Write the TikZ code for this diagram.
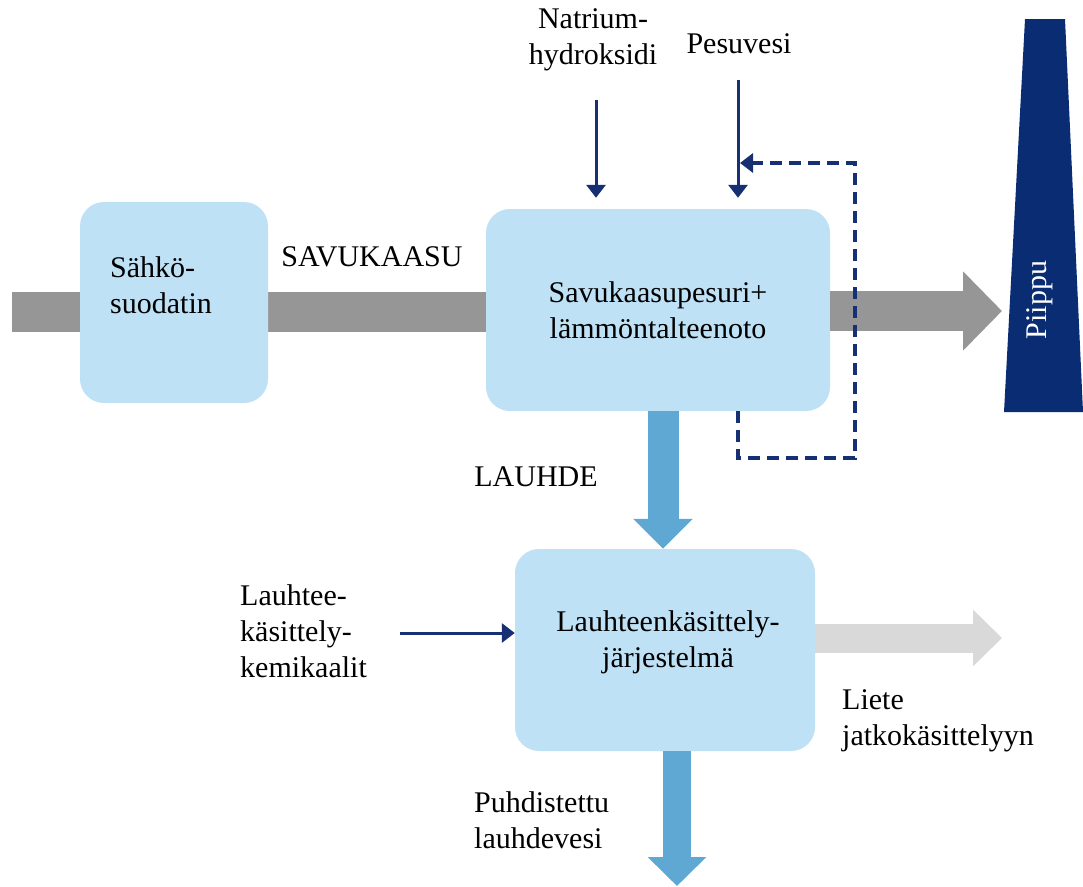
\documentclass[tikz,border=0pt]{standalone}
\usepackage{fontspec}
\setmainfont{Liberation Serif}
\usetikzlibrary{arrows.meta}
\definecolor{boxblue}{RGB}{190,225,245}
\definecolor{bandgray}{RGB}{150,150,150}
\definecolor{lightband}{RGB}{217,217,217}
\definecolor{flowblue}{RGB}{96,168,212}
\definecolor{navy}{RGB}{10,44,115}
\definecolor{linenavy}{RGB}{22,48,115}
\tikzset{
  unitbox/.style={draw=none, fill=boxblue, rounded corners=24pt, inner sep=0pt},
  txt/.style={font=\rmfamily\fontsize{30}{36}\selectfont, inner sep=0pt, align=center},
  txtl/.style={font=\rmfamily\fontsize{30}{36}\selectfont, inner sep=0pt, align=left},
  thinarrow/.style={draw=linenavy, line width=3pt, -{Triangle[length=13pt,width=19pt]}},
  dashline/.style={draw=linenavy, line width=3.2pt, dash pattern=on 12pt off 7pt},
  gasband/.style={draw=bandgray, line width=40pt},
}
\begin{document}
\begin{tikzpicture}[x=1pt,y=-1pt]
\useasboundingbox (0,0) rectangle (1083,886);

% coordinates
\coordinate (gasin) at (12,312);
\coordinate (gastip) at (1002,311);
\coordinate (natop) at (596,100);
\coordinate (pestop) at (738,80);
\coordinate (kemstart) at (400,633);
\coordinate (lietetip) at (1002,638);
\coordinate (wateout) at (677,886);
\coordinate (dashA) at (738,458);
\coordinate (dashB) at (855,458);
\coordinate (dashC) at (855,163);

% gray flue gas band (behind boxes)
\draw[gasband] (gasin) -- (486,312);

% boxes
\node[unitbox, minimum width=188pt, minimum height=201pt] (sahko) at (174,302.5) {};
\node[unitbox, minimum width=344pt, minimum height=202pt] (pesuri) at (658,310) {};
\node[unitbox, minimum width=300pt, minimum height=202pt] (lauhde) at (665,650) {};

% flue gas to stack
\draw[gasband, -{Triangle[length=39pt,width=77pt]}] (pesuri.east |- gastip) -- (gastip);

% condensate arrow
\draw[draw=flowblue, line width=31pt, -{Triangle[length=30pt,width=58pt]}]
  ([xshift=5pt]pesuri.south) -- ([xshift=5pt]pesuri.south |- lauhde.north);

% treated water
\draw[draw=flowblue, line width=28pt, -{Triangle[length=29pt,width=57pt]}]
  (lauhde.south -| wateout) -- (wateout);

% sludge arrow
\draw[draw=lightband, line width=29pt, -{Triangle[length=29pt,width=55pt]}]
  (lauhde.east |- lietetip) -- (lietetip);

% chemical inputs
\draw[thinarrow] (natop) -- ([yshift=11pt]natop |- pesuri.north);
\draw[thinarrow] (pestop) -- ([yshift=11pt]pestop |- pesuri.north);
\draw[thinarrow] (kemstart) -- (kemstart -| lauhde.west);

% recirculation (dashed)
\draw[dashline, -{Triangle[length=13pt,width=19pt]}]
  (dashA |- pesuri.south) -- (dashA) -- (dashB) -- (dashC) -- ([xshift=2pt]pestop |- dashC);

% stack
\fill[navy] (1025,19) -- (1065,19) -- (1083,412) -- (1004,412) -- cycle;
\node[txt, text=white, rotate=90] (piippu) at (1040,300) {Piippu};

% labels
\node[txtl, anchor=west] (sahkolbl) at (110,285) {Sähkö-\\suodatin};
\node[txt] (savukaasu) at (372,257) {SAVUKAASU};
\node[txt] (pesurilbl) at (pesuri.center) {Savukaasupesuri+\\lämmöntalteenoto};
\node[txt] (natrium) at (593,40) {Natrium-\\hydroksidi};
\node[txt] (pesuvesi) at (739,44) {Pesuvesi};
\node[txt] (lauhdelbl) at (536,477) {LAUHDE};
\node[txt] (lauhdebox) at (668,642) {Lauhteenkäsittely-\\järjestelmä};
\node[txtl, anchor=west] (kemikaalit) at (240,631) {Lauhtee-\\käsittely-\\kemikaalit};
\node[txtl, anchor=west] (liete) at (842,721) {Liete\\jatkokäsittelyyn};
\node[txtl, anchor=west] (puhd) at (474,820) {Puhdistettu\\lauhdevesi};
\end{tikzpicture}
\end{document}
